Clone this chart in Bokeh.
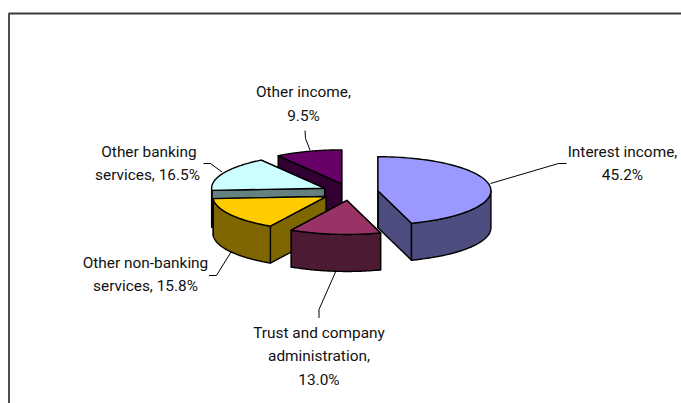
import numpy as np
from bokeh.core.properties import value
from bokeh.embed import file_html
from bokeh.models import Range1d
from bokeh.plotting import figure
from bokeh.resources import INLINE

# Income shares in percent, clockwise from twelve o'clock
categories = ["Interest income", "Trust and company administration",
              "Other non-banking services", "Other banking services", "Other income"]
shares = [45.2, 13.0, 15.8, 16.5, 9.5]
top_colors = ["#9999FF", "#993366", "#FFCC00", "#CCFFFF", "#660066"]
side_colors = ["#4D4D80", "#4D1A33", "#806600", "#668080", "#330033"]

# Pie projection, in page pixels
CENTER_X, CENTER_Y = 349.5, 191.5
RADIUS_X, RADIUS_Y = 113.0, 34.0
DEPTH = 37.0
EXPLODE = 0.25

FONT = "Roboto"
FONT_SIZE = "15.4px"
label_lines = [
    ("Interest income,", 622, 151.5), ("45.2%", 622, 174.5),
    ("Other income,", 303, 91), ("9.5%", 303, 115),
    ("Other banking", 148.5, 151.5), ("services, 16.5%", 147, 174.5),
    ("Other non-banking", 145, 262.5), ("services, 15.8%", 145, 285.5),
    ("Trust and company", 318.5, 332), ("administration,", 318.5, 355.5), ("13.0%", 318.5, 379),
]
leaders = [
    ([490, 558, 566], [183, 163, 163]),
    ([304.5, 305, 309.5], [130, 138, 149.5]),
    ([203, 210, 221.5], [163, 163, 171.5]),
    ([208.5, 216, 230.5], [275, 275, 251.5]),
    ([318.5, 318.5, 335], [317.5, 309, 271.5]),
]

p = figure(width=681, height=403, x_range=Range1d(0, 681), y_range=Range1d(403, 0),
           output_backend="svg", toolbar_location=None, min_border=0,
           outline_line_color=None, background_fill_color="white",
           border_fill_color="white")
p.axis.visible = False
p.grid.visible = False

# Chart frame: only its top and left edges fall inside the page
p.line([8.5, 8.5], [403, 13], line_color="#222222", line_width=1.6)
p.line([8, 681], [13, 13], line_color="#3a3a3a", line_width=2)


def rim(theta, cx, cy):
    """Point on the top ellipse for clockwise angles from twelve o'clock, in radians."""
    return cx + RADIUS_X * np.sin(theta), cy - RADIUS_Y * np.cos(theta)


def face(xs, ys, color):
    p.patch(list(xs), list(ys), fill_color=color, line_color="black",
            line_width=1.4, line_join="round")


edges = np.cumsum([0.0] + shares) / sum(shares) * 2 * np.pi
slices = []
for i in range(len(shares)):
    start, end = edges[i], edges[i + 1]
    mid = (start + end) / 2
    cx = CENTER_X + RADIUS_X * EXPLODE * np.sin(mid)
    cy = CENTER_Y - RADIUS_Y * EXPLODE * np.cos(mid)
    slices.append((i, start, end, cx, cy))

# Back slices first, so the nearer ones overlap them
for i, start, end, cx, cy in [slices[k] for k in (4, 3, 2, 1, 0)]:
    side, top = side_colors[i], top_colors[i]

    # Radial cut faces
    for angle in (end, start):
        ex, ey = rim(angle, cx, cy)
        face([cx, ex, ex, cx], [cy, ey, ey + DEPTH, cy + DEPTH], side)

    # Outer wall, only for the part of the rim turned toward the viewer
    lo, hi = max(start, np.pi / 2), min(end, 3 * np.pi / 2)
    if hi > lo:
        t = np.linspace(lo, hi, 60)
        wx, wy = rim(t, cx, cy)
        face(np.r_[wx, wx[::-1]], np.r_[wy, wy[::-1] + DEPTH], side)

    # Top surface
    t = np.linspace(start, end, 90)
    tx, ty = rim(t, cx, cy)
    face(np.r_[cx, tx], np.r_[cy, ty], top)

for lx, ly in leaders:
    p.line(lx, ly, line_color="black", line_width=1)

p.text([l[1] for l in label_lines], [l[2] for l in label_lines],
       text=[l[0] for l in label_lines], text_font=value(FONT), text_font_size=FONT_SIZE,
       text_color="#111111", text_align="center", text_baseline="middle")

open("out.html", "w").write(file_html(p, INLINE))
